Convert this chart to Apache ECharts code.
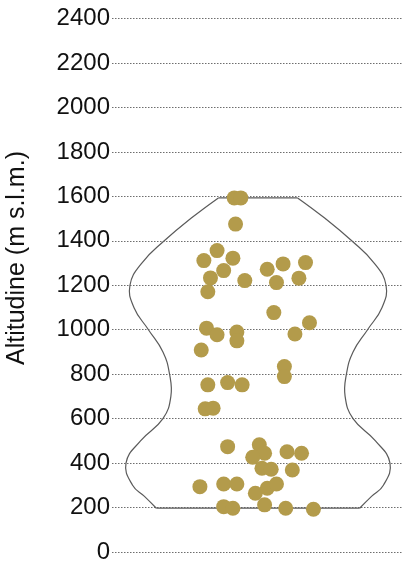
<!DOCTYPE html>
<html>
<head>
<meta charset="utf-8">
<script src="https://cdn.jsdelivr.net/npm/echarts@6/dist/echarts.min.js"></script>
<style>
  html, body { margin: 0; padding: 0; background: #ffffff; }
  #chart { width: 402px; height: 567px; }
</style>
</head>
<body>
<div id="chart"></div>
<script>
// Altitude of each sampled site (m a.s.l.)
const altitudes = [
  1593, 1593, 1475, 1356, 1311, 1322, 1266, 1233, 1171, 1221,
  1272, 1296, 1302, 1212, 1232, 1077, 1031, 981, 1007, 977,
  990, 950, 909, 834, 789, 752, 762, 752, 644, 647,
  474, 482, 444, 426, 451, 444, 377, 372, 369, 294,
  306, 306, 264, 287, 306, 204, 197, 212, 197, 192
];
// Horizontal jitter of each point, relative to the violin's widest half-width
const jitter = [
  -0.18, -0.13, -0.17, -0.31, -0.41, -0.19, -0.26, -0.36, -0.38, -0.10,
  0.07, 0.19, 0.36, 0.14, 0.31, 0.12, 0.39, 0.28, -0.39, -0.31,
  -0.16, -0.16, -0.43, 0.20, 0.20, -0.38, -0.23, -0.12, -0.40, -0.34,
  -0.23, 0.01, 0.05, -0.04, 0.22, 0.33, 0.03, 0.10, 0.26, -0.44,
  -0.26, -0.16, -0.02, 0.07, 0.14, -0.26, -0.19, 0.05, 0.21, 0.42
];
// Density profile of the violin: altitude levels and half-widths
const profileAlt = [197, 250, 300, 400, 500, 600, 700, 800, 900, 1000, 1100, 1200, 1300, 1400, 1500, 1593];
const profileHalf = [0.77, 0.86, 0.95, 1.0, 0.89, 0.72, 0.66, 0.67, 0.72, 0.83, 0.94, 0.97, 0.88, 0.71, 0.51, 0.30];
// Y axis ticks
const yTicks = [0, 200, 400, 600, 800, 1000, 1200, 1400, 1600, 1800, 2000, 2200, 2400];
const yTitle = 'Altitudine (m s.l.m.)';

const points = altitudes.map((a, i) => [jitter[i], a]);

// Violin sides, each running from the bottom level to the top level
const leftSide = profileAlt.map((a, i) => [-profileHalf[i], a]);
const rightSide = profileAlt.map((a, i) => [profileHalf[i], a]);
const last = profileAlt.length - 1;

const chart = echarts.init(document.getElementById('chart'), null, { renderer: 'canvas' });
chart.setOption({
  animation: false,
  backgroundColor: '#ffffff',
  grid: { left: 112, right: 0, top: 18.5, bottom: 15, containLabel: false },
  xAxis: {
    type: 'value', min: -1.106, max: 1.091, show: false
  },
  yAxis: {
    type: 'value',
    min: yTicks[0], max: yTicks[yTicks.length - 1], interval: 200,
    axisLine: { show: false },
    axisTick: { show: false },
    axisLabel: {
      margin: 2,
      fontFamily: 'Liberation Sans',
      fontSize: 24,
      color: '#111111',
      formatter: v => String(v)
    },
    splitLine: {
      show: true,
      lineStyle: { color: '#6e6e6e', width: 1.2, type: [1.5, 1.5] }
    }
  },
  graphic: [{
    type: 'text',
    x: 17, y: 258,
    rotation: Math.PI / 2,
    style: {
      text: yTitle,
      fontFamily: 'Liberation Sans',
      fontSize: 25,
      fill: '#111111',
      align: 'center',
      verticalAlign: 'middle'
    }
  }],
  series: [
    {
      // violin outline: two smoothed sides joined by flat ends at min and max
      type: 'custom',
      data: [0],
      renderItem: function (params, api) {
        const stroke = { fill: 'none', stroke: '#5a5a5a', lineWidth: 1.2 };
        const L = leftSide.map(p => api.coord(p));
        const R = rightSide.map(p => api.coord(p));
        return {
          type: 'group',
          children: [
            { type: 'polyline', shape: { points: L, smooth: 0.45 }, style: stroke },
            { type: 'polyline', shape: { points: R, smooth: 0.45 }, style: stroke },
            { type: 'line', shape: { x1: L[0][0], y1: L[0][1], x2: R[0][0], y2: R[0][1] }, style: stroke },
            { type: 'line', shape: { x1: L[last][0], y1: L[last][1], x2: R[last][0], y2: R[last][1] }, style: stroke }
          ]
        };
      },
      silent: true,
      z: 2
    },
    {
      type: 'scatter',
      data: points,
      symbolSize: 15,
      itemStyle: { color: '#b39b4b', opacity: 1 },
      z: 3
    }
  ]
});
</script>
</body>
</html>
